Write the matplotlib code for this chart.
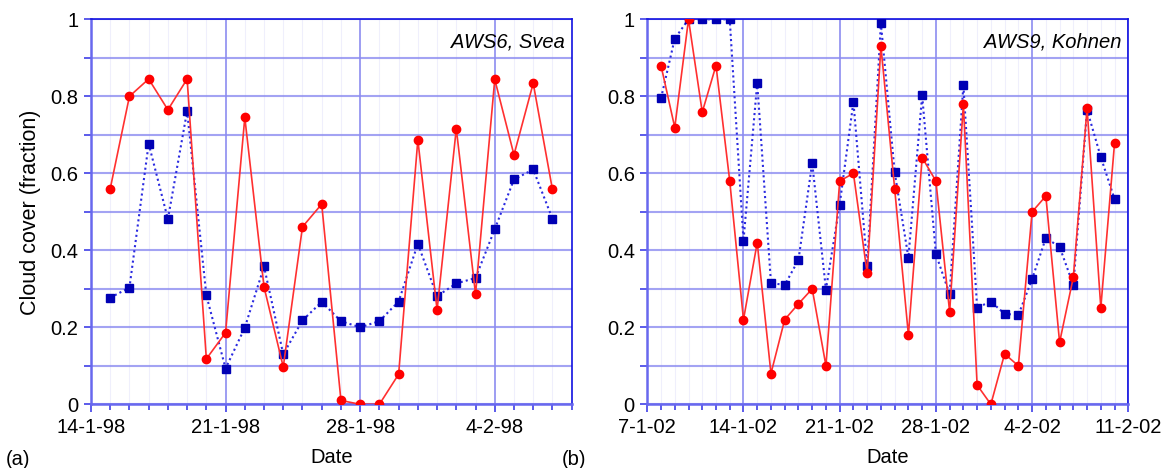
import numpy as np
import pandas as pd
import matplotlib
matplotlib.use("Agg")
import matplotlib.pyplot as plt
import matplotlib.dates as mdates
from matplotlib.ticker import FixedLocator, MultipleLocator, FuncFormatter

plt.rcParams['font.family'] = ['Liberation Sans', 'DejaVu Sans']

# (a) AWS6, Svea, 15 Jan - 7 Feb 1998
svea_dates = ['1998-01-15', '1998-01-16', '1998-01-17', '1998-01-18', '1998-01-19', '1998-01-20',
              '1998-01-21', '1998-01-22', '1998-01-23', '1998-01-24', '1998-01-25', '1998-01-26',
              '1998-01-27', '1998-01-28', '1998-01-29', '1998-01-30', '1998-01-31', '1998-02-01',
              '1998-02-02', '1998-02-03', '1998-02-04', '1998-02-05', '1998-02-06', '1998-02-07']
svea_red = [0.56, 0.80, 0.845, 0.765, 0.845, 0.118, 0.186, 0.745, 0.305, 0.097, 0.461, 0.520,
            0.010, 0.0, 0.0, 0.078, 0.687, 0.245, 0.716, 0.286, 0.844, 0.648, 0.834, 0.558]
svea_blue = [0.277, 0.303, 0.677, 0.481, 0.762, 0.283, 0.093, 0.199, 0.358, 0.130, 0.218, 0.266,
             0.216, 0.200, 0.216, 0.267, 0.417, 0.281, 0.314, 0.328, 0.455, 0.584, 0.610, 0.482]
svea_ticks = ['1998-01-14', '1998-01-21', '1998-01-28', '1998-02-04']
svea_xlim = ['1998-01-14', '1998-02-08']

# (b) AWS9, Kohnen, 8 Jan - 10 Feb 2002
kohnen_dates = ['2002-01-08', '2002-01-09', '2002-01-10', '2002-01-11', '2002-01-12', '2002-01-13',
                '2002-01-14', '2002-01-15', '2002-01-16', '2002-01-17', '2002-01-18', '2002-01-19',
                '2002-01-20', '2002-01-21', '2002-01-22', '2002-01-23', '2002-01-24', '2002-01-25',
                '2002-01-26', '2002-01-27', '2002-01-28', '2002-01-29', '2002-01-30', '2002-01-31',
                '2002-02-01', '2002-02-02', '2002-02-03', '2002-02-04', '2002-02-05', '2002-02-06',
                '2002-02-07', '2002-02-08', '2002-02-09', '2002-02-10']
kohnen_red = [0.880, 0.719, 1.0, 0.759, 0.880, 0.580, 0.220, 0.420, 0.080, 0.220, 0.261, 0.300,
              0.100, 0.580, 0.600, 0.340, 0.930, 0.560, 0.180, 0.641, 0.580, 0.240, 0.779, 0.050,
              0.0, 0.131, 0.100, 0.500, 0.541, 0.161, 0.330, 0.769, 0.251, 0.679]
kohnen_blue = [0.795, 0.950, 1.0, 1.0, 1.0, 1.0, 0.425, 0.835, 0.315, 0.310, 0.375, 0.627,
               0.298, 0.519, 0.786, 0.358, 0.990, 0.603, 0.381, 0.803, 0.390, 0.286, 0.830, 0.251,
               0.267, 0.235, 0.232, 0.325, 0.432, 0.409, 0.310, 0.765, 0.642, 0.533]
kohnen_ticks = ['2002-01-07', '2002-01-14', '2002-01-21', '2002-01-28', '2002-02-04', '2002-02-11']
kohnen_xlim = ['2002-01-07', '2002-02-11']

FS = 14.5
GRID_C = '#8c8cf0'
SPINE_C = '#1010e0'


def date_label(x, pos=None):
    d = mdates.num2date(x)
    return f"{d.day}-{d.month}-{d:%y}"


def draw_panel(ax, dates, red, blue, ticks, xlim, title, letter):
    x = pd.to_datetime(dates)
    ax.plot(x, blue, ls=(0, (1, 1.5)), color='#2a2ae0', lw=1.5, marker='s', ms=5.5,
            mfc='#0000b4', mec='#0000b4', zorder=3)
    ax.plot(x, red, ls='-', color='#ff3030', lw=1.2, marker='o', ms=6,
            mfc='#ff0000', mec='#ff0000', zorder=4)

    ax.set_xlim(pd.to_datetime(xlim[0]), pd.to_datetime(xlim[1]))
    ax.set_ylim(0, 1)
    ax.xaxis.set_major_locator(FixedLocator(mdates.date2num(pd.to_datetime(ticks))))
    ax.xaxis.set_minor_locator(mdates.DayLocator())
    ax.xaxis.set_major_formatter(FuncFormatter(date_label))
    ax.yaxis.set_major_locator(MultipleLocator(0.2))
    ax.yaxis.set_minor_locator(MultipleLocator(0.1))
    ax.yaxis.set_major_formatter(FuncFormatter(lambda v, p: f"{v:g}"))

    # faint daily lines, then weekly and 0.1 grid
    ax.grid(True, which='minor', axis='x', color='#efeffc', lw=0.8, zorder=0)
    ax.grid(True, which='major', axis='x', color=GRID_C, lw=1.2, zorder=1)
    ax.grid(True, which='both', axis='y', color=GRID_C, lw=1.5, alpha=0.8, zorder=1)

    for side in ['top', 'right']:
        ax.spines[side].set_color(SPINE_C)
        ax.spines[side].set_linewidth(1.2)
    for side in ['left', 'bottom']:
        ax.spines[side].set_color('#6868ee')
        ax.spines[side].set_linewidth(1.8)

    ax.tick_params(axis='both', which='both', direction='out', color='#4040e8',
                   labelsize=FS, width=1.2)
    ax.tick_params(axis='x', which='major', length=6, pad=4)
    ax.tick_params(axis='x', which='minor', length=4)
    ax.tick_params(axis='y', which='both', length=5, pad=4)

    ax.set_xlabel('Date', fontsize=FS, labelpad=8)
    ax.text(0.985, 0.965, title, transform=ax.transAxes, ha='right', va='top',
            fontsize=FS, style='italic')
    ax.text(-0.178, -0.143, letter, transform=ax.transAxes, ha='left', va='center',
            fontsize=FS)


fig = plt.figure(figsize=(11.65, 4.68), dpi=100)
ax1 = fig.add_axes([0.0781, 0.1361, 0.4126, 0.8226])
ax2 = fig.add_axes([0.5556, 0.1361, 0.4129, 0.8226])

draw_panel(ax1, svea_dates, svea_red, svea_blue, svea_ticks, svea_xlim, 'AWS6, Svea', '(a)')
draw_panel(ax2, kohnen_dates, kohnen_red, kohnen_blue, kohnen_ticks, kohnen_xlim, 'AWS9, Kohnen', '(b)')
ax1.set_ylabel('Cloud cover (fraction)', fontsize=15.5, labelpad=7)

fig.savefig('out.png', dpi=100)
